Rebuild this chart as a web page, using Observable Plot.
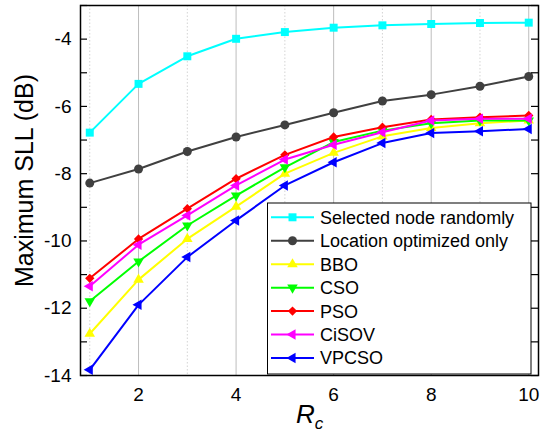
<!DOCTYPE html>
<html><head><meta charset="utf-8">
<script src="https://cdn.jsdelivr.net/npm/d3@7"></script>
<script src="https://cdn.jsdelivr.net/npm/@observablehq/plot@0.6"></script>
<style>
body{margin:0;background:#fff}
svg{font-family:"Liberation Sans",Arial,sans-serif}
</style>
</head><body><div id="chart"></div>
<script>
// ---- data ----
const rc = [1, 2, 3, 4, 5, 6, 7, 8, 9, 10];
const seriesNames = ["Selected node randomly", "Location optimized only", "BBO", "CSO", "PSO", "CiSOV", "VPCSO"];
const randomNode   = [-6.78, -5.33, -4.51, -3.99, -3.79, -3.66, -3.59, -3.55, -3.52, -3.51];
const locationOnly = [-8.28, -7.86, -7.34, -6.91, -6.55, -6.19, -5.84, -5.65, -5.40, -5.11];
const bbo   = [-12.76, -11.15, -9.94, -8.98, -8.00, -7.38, -6.89, -6.64, -6.50, -6.42];
const cso   = [-11.79, -10.61, -9.54, -8.65, -7.81, -7.06, -6.72, -6.50, -6.42, -6.42];
const pso   = [-11.11, -9.94, -9.04, -8.15, -7.44, -6.91, -6.62, -6.39, -6.32, -6.27];
const cisov = [-11.35, -10.11, -9.24, -8.35, -7.58, -7.14, -6.77, -6.42, -6.37, -6.37];
const vpcso = [-13.83, -11.90, -10.48, -9.39, -8.35, -7.66, -7.09, -6.79, -6.74, -6.67];
const xTickLabels = [2, 4, 6, 8, 10];
const xMinor = [1, 3, 5, 7, 9];
const yTickLabels = [-14, -12, -10, -8, -6, -4];
const yAllTicks = [-14, -13, -12, -11, -10, -9, -8, -7, -6, -5, -4, -3];
const xTitle = "R", xTitleSub = "c";
const yTitle = "Maximum SLL (dB)";

// ---- styles ----
const sqrt3 = Math.sqrt(3);
const triDown = {draw(ctx, size) {
  const y = -Math.sqrt(size / (sqrt3 * 3));
  ctx.moveTo(0, -y * 2); ctx.lineTo(-sqrt3 * y, y); ctx.lineTo(sqrt3 * y, y); ctx.closePath();
}};
const triLeft = {draw(ctx, size) {
  const y = -Math.sqrt(size / (sqrt3 * 3));
  ctx.moveTo(y * 2, 0); ctx.lineTo(-y, -sqrt3 * y); ctx.lineTo(-y, sqrt3 * y); ctx.closePath();
}};
const colors = ["#00ffff", "#404040", "#ffff00", "#00ff00", "#ff0000", "#ff00ff", "#0000ff"];
const symbols = [d3.symbolSquare, d3.symbolCircle, d3.symbolTriangle, triDown, d3.symbolDiamond2, triLeft, triLeft];
const radii = [4.5, 4.5, 3.9, 3.9, 4.2, 3.9, 3.9];

const valuesList = [randomNode, locationOnly, bbo, cso, pso, cisov, vpcso];
const table = seriesNames.flatMap((name, i) => rc.map((x, j) => ({rc: x, sll: valuesList[i][j], name})));

const seriesMarks = seriesNames.flatMap((name, i) => {
  const d = table.filter(r => r.name === name);
  return [
    Plot.line(d, {x: "rc", y: "sll", stroke: colors[i], strokeWidth: 2}),
    Plot.dot(d, {x: "rc", y: "sll", fill: colors[i], stroke: "none", symbol: () => symbols[i], r: radii[i]})
  ];
});

const W = 550, H = 433, mL = 80, mR = 12, mT = 5, mB = 58;
const innerW = W - mL - mR;
const tickLen = 7;

const chart = Plot.plot({
  width: W, height: H,
  marginLeft: mL, marginRight: mR, marginTop: mT, marginBottom: mB,
  x: {domain: [0.81, 10.2]},
  y: {domain: [-14, -3]},
  style: {fontFamily: '"Liberation Sans", Arial, sans-serif', fontSize: "18px", color: "black", background: "white"},
  marks: [
    Plot.ruleX(xMinor, {stroke: "#d4d4d4", strokeDasharray: "1.5,2", strokeWidth: 1}),
    Plot.ruleX(xTickLabels, {stroke: "#bdbdbd", strokeWidth: 1}),
    ...seriesMarks,
    Plot.tickY(yAllTicks, {y: d => d, insetRight: innerW - tickLen, stroke: "black", strokeWidth: 1.2}),
    Plot.tickY(yAllTicks, {y: d => d, insetLeft: innerW - tickLen, stroke: "black", strokeWidth: 1.2}),
    Plot.axisX(xTickLabels, {tickSize: 0, tickPadding: 11.5, fontSize: 19, label: null, tickFormat: d => String(d)}),
    Plot.axisY(yTickLabels, {tickSize: 0, tickPadding: 9, fontSize: 19, label: null, tickFormat: d => String(d)}),
    Plot.frame({stroke: "black", strokeWidth: 1.5})
  ]
});
document.getElementById("chart").appendChild(chart);

const svg = d3.select(chart);
// y title
svg.append("text")
  .attr("transform", "translate(33,180.5) rotate(-90)")
  .attr("text-anchor", "middle")
  .attr("font-size", 25)
  .attr("fill", "black")
  .text(yTitle);
// x title
const xt = svg.append("text").attr("x", 296).attr("y", 423).attr("fill", "black")
  .attr("font-style", "italic").attr("text-anchor", "start");
xt.append("tspan").attr("font-size", 26).text(xTitle);
xt.append("tspan").attr("font-size", 17).attr("dy", 6).text(xTitleSub);

// legend
const lg = svg.append("g").attr("text-anchor", "start");
lg.append("rect").attr("x", 267.5).attr("y", 203).attr("width", 263.5).attr("height", 171)
  .attr("fill", "white").attr("stroke", "black").attr("stroke-width", 1);
seriesNames.forEach((name, i) => {
  const cy = 217.3 + i * 23.45;
  lg.append("line").attr("x1", 271).attr("x2", 314).attr("y1", cy).attr("y2", cy)
    .attr("stroke", colors[i]).attr("stroke-width", 2);
  lg.append("path").attr("transform", `translate(292.5,${cy})`)
    .attr("d", d3.symbol(symbols[i], radii[i] * radii[i] * Math.PI)())
    .attr("fill", colors[i]);
  lg.append("text").attr("x", 320).attr("y", cy).attr("dy", "0.36em")
    .attr("text-anchor", "start")
    .attr("font-size", 18).attr("fill", "black").text(name);
});
</script>
</body></html>
